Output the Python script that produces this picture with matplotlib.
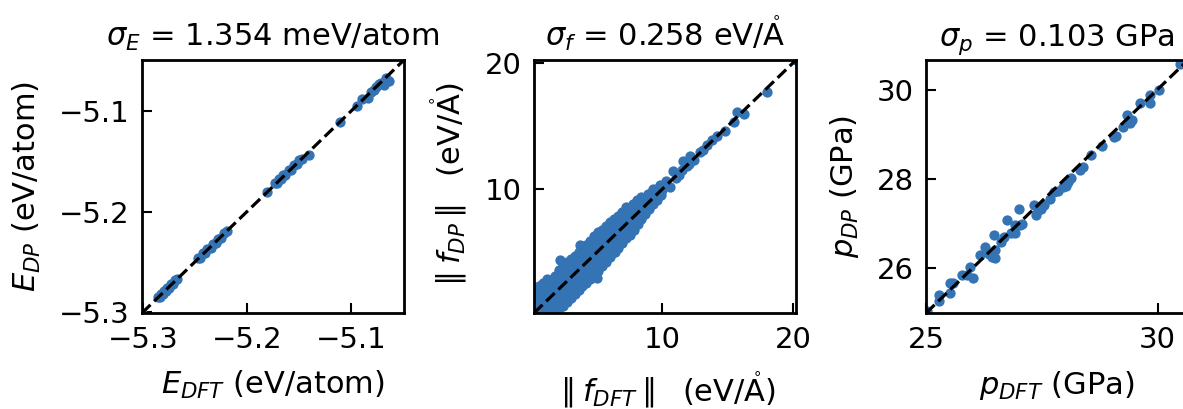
import numpy as np
import matplotlib
matplotlib.use('Agg')
import matplotlib.pyplot as plt

# energia por atomo (eV/atom)
e_dft = [-5.301, -5.286, -5.284, -5.283, -5.281, -5.280, -5.278, -5.277, -5.275, -5.273, -5.271, -5.269, -5.267,
         -5.247, -5.245, -5.242, -5.240, -5.238, -5.235, -5.233, -5.230, -5.228, -5.225, -5.222, -5.219,
         -5.181,
         -5.173, -5.171, -5.169, -5.167, -5.165, -5.163, -5.160, -5.158, -5.155, -5.152, -5.150, -5.147, -5.140,
         -5.111,
         -5.094, -5.089, -5.084, -5.081, -5.078, -5.076, -5.073, -5.071, -5.068, -5.066, -5.063]
e_dp = [-5.301, -5.285, -5.285, -5.282, -5.282, -5.279, -5.279, -5.276, -5.276, -5.272, -5.272, -5.268, -5.267,
        -5.246, -5.246, -5.241, -5.241, -5.237, -5.236, -5.232, -5.231, -5.227, -5.226, -5.221, -5.219,
        -5.180,
        -5.172, -5.172, -5.168, -5.168, -5.164, -5.164, -5.159, -5.159, -5.154, -5.153, -5.149, -5.148, -5.144,
        -5.111,
        -5.095, -5.088, -5.087, -5.081, -5.079, -5.076, -5.073, -5.072, -5.074, -5.067, -5.070]

# norma de la fuerza (eV/A)
f_dft = [0.25, 0.35, 0.30, 0.28,
         0.60, 0.65, 0.55, 0.62, 0.58,
         0.90, 0.95, 0.85, 0.92, 0.88,
         1.20, 1.25, 1.15, 1.22, 1.18, 1.20,
         1.50, 1.45, 1.55, 1.50, 1.48,
         1.80, 1.85, 1.75, 1.82, 1.78, 1.80,
         2.10, 2.15, 2.05, 2.12, 2.08, 2.10,
         2.40, 2.45, 2.35, 2.42, 2.38, 2.40,
         2.70, 2.75, 2.65, 2.72, 2.68, 2.70,
         3.00, 3.05, 2.95, 3.02, 2.98, 3.00,
         3.30, 3.35, 3.25, 3.32, 3.28, 3.30,
         3.60, 3.65, 3.55, 3.62, 3.58, 3.60,
         3.90, 3.95, 3.85, 3.92, 3.88, 3.90,
         4.20, 4.25, 4.15, 4.22, 4.18, 4.20,
         4.50, 4.55, 4.45, 4.52, 4.48, 4.50,
         4.80, 4.85, 4.75, 4.82, 4.78, 4.80,
         5.10, 5.15, 5.05, 5.12, 5.08, 5.10,
         5.40, 5.45, 5.35, 5.42, 5.38, 5.40,
         5.70, 5.75, 5.65, 5.72, 5.68, 5.70,
         6.00, 6.05, 5.95, 6.02, 5.98, 6.00,
         6.30, 6.35, 6.25, 6.32, 6.28, 6.30,
         6.60, 6.65, 6.55, 6.62, 6.58, 6.60,
         6.90, 6.95, 6.85, 6.92, 6.88, 6.90,
         7.20, 7.25, 7.15, 7.22, 7.18, 7.20,
         7.50, 7.55, 7.45, 7.52, 7.48,
         7.80, 7.85, 7.75, 7.82, 7.78,
         8.10, 8.15, 8.05, 8.12, 8.08,
         8.40, 8.45, 8.35, 8.42, 8.38,
         8.70, 8.75, 8.65, 8.72,
         9.00, 9.05, 8.95, 9.02,
         9.30, 9.35, 9.25, 9.32,
         9.60, 9.65, 9.55,
         9.90, 9.95, 9.85,
         3.70, 5.00, 2.20, 6.40, 8.90, 9.30,
         10.3, 10.6, 10.8, 11.0, 11.3, 11.5, 11.6, 11.9, 12.0, 12.1, 12.4, 12.9,
         13.1, 13.4, 13.8, 14.2, 14.8, 15.5, 15.7, 16.2, 18.0, 20.2]
f_dp = [0.30, 0.80, 1.40, 2.00,
        0.25, 0.60, 1.10, 1.70, 2.30,
        0.30, 0.90, 1.50, 2.10, 2.60,
        0.35, 0.70, 1.30, 1.80, 2.40, 2.90,
        0.40, 1.00, 1.60, 2.20, 2.80,
        0.50, 0.90, 1.50, 2.00, 2.60, 3.10,
        0.60, 1.30, 1.90, 2.50, 3.20, 3.60,
        0.75, 1.50, 2.10, 2.70, 3.30, 3.90,
        1.10, 1.70, 2.40, 3.00, 3.60, 4.20,
        1.40, 2.00, 2.70, 3.30, 3.90, 4.50,
        1.70, 2.30, 2.90, 3.50, 4.10, 4.70,
        2.00, 2.60, 3.30, 3.90, 4.40, 5.00,
        2.30, 2.90, 3.50, 4.10, 4.70, 5.30,
        2.60, 3.20, 3.90, 4.40, 5.00, 5.60,
        2.90, 3.50, 4.10, 4.80, 5.30, 5.90,
        3.20, 3.80, 4.50, 5.10, 5.60, 6.30,
        3.50, 4.10, 4.70, 5.30, 6.00, 6.60,
        3.90, 4.50, 5.10, 5.70, 6.20, 6.80,
        4.20, 4.80, 5.40, 6.00, 6.60, 7.10,
        4.60, 5.20, 5.80, 6.30, 6.90, 7.40,
        5.00, 5.50, 6.10, 6.70, 7.20, 7.60,
        5.30, 5.90, 6.40, 7.00, 7.50, 7.90,
        5.70, 6.30, 6.80, 7.30, 7.80, 8.20,
        6.10, 6.60, 7.10, 7.60, 8.10, 8.60,
        6.40, 6.90, 7.40, 7.90, 8.50,
        6.80, 7.30, 7.80, 8.30, 8.80,
        7.20, 7.70, 8.10, 8.60, 9.10,
        7.60, 8.00, 8.40, 8.90, 9.40,
        8.00, 8.40, 8.80, 9.30,
        8.40, 8.80, 9.20, 9.60,
        8.80, 9.20, 9.60, 10.0,
        9.10, 9.50, 10.0,
        9.50, 9.90, 10.3,
        5.60, 3.00, 4.40, 5.00, 9.60, 9.90,
        10.6, 10.2, 11.4, 10.9, 11.1, 11.5, 12.2, 11.8, 12.0, 12.6, 12.3, 12.9,
        13.1, 13.5, 13.9, 14.2, 14.6, 15.3, 16.1, 15.9, 17.7, 20.2]

# presion (GPa)
p_dft = [25.02, 25.27, 25.28, 25.52, 25.51, 25.59, 25.78, 25.88, 25.96, 26.01,
         26.17, 26.28, 26.35, 26.43, 26.48, 26.50, 26.46, 26.61, 26.68, 26.74,
         26.83, 26.93, 26.93, 27.01, 27.04, 27.08, 27.33, 27.37, 27.41, 27.48,
         27.55, 27.68, 27.77, 27.84, 27.95, 28.02, 28.06, 28.14, 28.33, 28.38,
         28.57, 28.80, 29.07, 29.11, 29.25, 29.34, 29.40, 29.45, 29.62, 29.83,
         29.83, 30.03, 30.49]
p_dp = [25.04, 25.41, 25.26, 25.67, 25.44, 25.67, 25.85, 25.85, 26.04, 25.78,
        26.30, 26.48, 26.33, 26.25, 26.24, 26.41, 26.74, 26.59, 26.70, 27.07,
        26.78, 26.96, 26.78, 27.33, 26.96, 27.00, 27.41, 27.19, 27.30, 27.33,
        27.41, 27.54, 27.70, 27.74, 27.81, 27.85, 27.93, 28.01, 28.19, 28.26,
        28.53, 28.74, 28.93, 28.96, 29.15, 29.42, 29.26, 29.32, 29.70, 29.70,
        29.87, 30.00, 30.56]

color = '#3474b5'
ang = r'$\mathring{\mathrm{A}}$'

paneles = [
    (e_dft, e_dp, (-5.301, -5.049), [-5.3, -5.2, -5.1], [-5.3, -5.2, -5.1],
     r'$\sigma_E$ = 1.354 meV/atom', r'$E_{DFT}$ (eV/atom)', r'$E_{DP}$ (eV/atom)'),
    (f_dft, f_dp, (0.2, 20.2), [10, 20], [10, 20],
     r'$\sigma_f$ = 0.258 eV/' + ang, r'$\parallel f_{DFT} \parallel$  (eV/' + ang + ')',
     r'$\parallel f_{DP} \parallel$  (eV/' + ang + ')'),
    (p_dft, p_dp, (25.0, 30.66), [25, 30], [26, 28, 30],
     r'$\sigma_p$ = 0.103 GPa', r'$p_{DFT}$ (GPa)', r'$p_{DP}$ (GPa)'),
]

fig = plt.figure(figsize=(11.83, 4.09), dpi=100)
lefts = [0.120, 0.4514, 0.7828]

for i, (x, y, lim, xt, yt, titulo, xl, yl) in enumerate(paneles):
    ax = fig.add_axes([lefts[i], 0.2347, 0.2215, 0.6186])
    ax.scatter(x, y, s=55, color=color, linewidths=0, zorder=2)
    ax.plot(lim, lim, 'k--', lw=2.3, zorder=3)
    ax.set_xlim(lim)
    ax.set_ylim(lim)
    ax.set_xticks(xt)
    ax.set_yticks(yt)
    ax.tick_params(direction='in', length=7, width=1.5, pad=9, labelsize=21)
    for sp in ax.spines.values():
        sp.set_linewidth(2)
    ax.set_title(titulo, fontsize=22, pad=10)
    ax.set_xlabel(xl, fontsize=22, labelpad=11)
    ax.set_ylabel(yl, fontsize=22, labelpad=11)

fig.savefig('out.png', dpi=100)
